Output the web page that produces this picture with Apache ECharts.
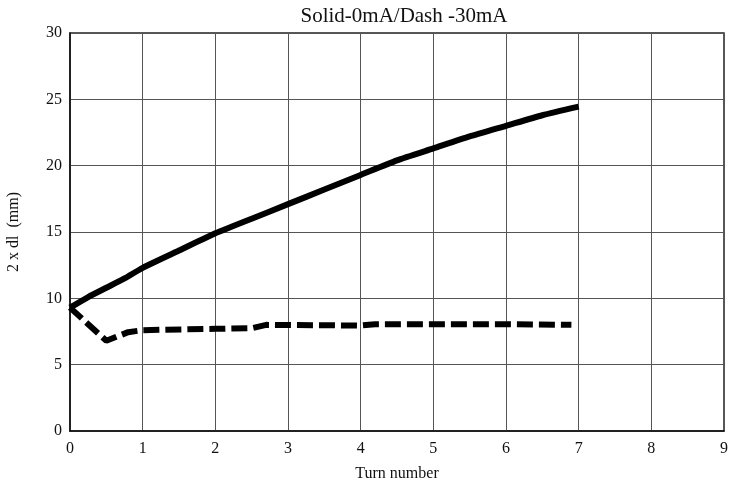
<!DOCTYPE html>
<html>
<head>
<meta charset="utf-8">
<script src="https://cdn.jsdelivr.net/npm/echarts@6/dist/echarts.min.js"></script>
<style>
  html, body { margin: 0; padding: 0; background: #fff; }
  #chart { width: 732px; height: 482px; }
</style>
</head>
<body>
<div id="chart"></div>
<script>
// solid line: 0 mA
const solidTurns = [0, 0.25, 0.5, 0.75, 1, 1.5, 2, 2.5, 3, 3.5, 4, 4.5, 5, 5.5, 6, 6.5, 7];
const solidValues = [9.3, 10.1, 10.8, 11.5, 12.3, 13.6, 14.9, 16.0, 17.1, 18.2, 19.3, 20.4, 21.3, 22.2, 23.0, 23.8, 24.45];

// dashed line: -30 mA
const dashTurns = [0, 0.5, 0.8, 1.0, 2.0, 2.5, 2.7, 4.0, 4.2, 5, 6, 6.9];
const dashValues = [9.3, 6.8, 7.45, 7.6, 7.7, 7.75, 8.0, 7.95, 8.05, 8.05, 8.05, 8.0];

const font = "'Liberation Serif', 'DejaVu Serif', serif";

const toPairs = (xs, ys) => xs.map((x, i) => [x, ys[i]]);

const myChart = echarts.init(document.getElementById('chart'));
const option = {
  backgroundColor: '#fff',
  animation: false,
  title: {
    text: 'Solid-0mA/Dash -30mA',
    left: 399,
    textAlign: 'center',
    top: 1,
    textStyle: { fontFamily: font, fontSize: 21, fontWeight: 'normal', color: '#111' },
  },
  grid: {
    left: 70,
    right: 8,
    top: 33,
    bottom: 51,
    outerBoundsMode: 'none',
    containLabel: false,
    show: true,
    borderColor: '#222',
    borderWidth: 1.5,
  },
  xAxis: {
    type: 'value',
    min: 0,
    max: 9,
    interval: 1,
    name: 'Turn number',
    nameLocation: 'middle',
    nameGap: 35,
    nameTextStyle: { fontFamily: font, fontSize: 16, color: '#111' },
    axisLine: { lineStyle: { color: '#111', width: 1.5 } },
    axisTick: { show: false },
    axisLabel: { fontFamily: font, fontSize: 16, color: '#111', margin: 10 },
    splitLine: { show: true, lineStyle: { color: '#555', width: 1 } },
  },
  yAxis: {
    type: 'value',
    min: 0,
    max: 30,
    interval: 5,
    name: '2 x dl  (mm)',
    nameLocation: 'middle',
    nameGap: 48,
    nameTextStyle: { fontFamily: font, fontSize: 16, color: '#111' },
    axisLine: { show: true, lineStyle: { color: '#111', width: 1.5 } },
    axisTick: { show: false },
    axisLabel: { fontFamily: font, fontSize: 16, color: '#111', margin: 8, padding: [6, 0, 0, 0] },
    splitLine: { show: true, lineStyle: { color: '#555', width: 1 } },
  },
  series: [
    {
      name: 'Solid-0mA',
      type: 'line',
      data: toPairs(solidTurns, solidValues),
      showSymbol: false,
      smooth: 0.2,
      lineStyle: { color: '#000', width: 6, cap: 'butt', join: 'round' },
    },
    {
      name: 'Dash -30mA',
      type: 'line',
      data: toPairs(dashTurns, dashValues),
      showSymbol: false,
      lineStyle: { color: '#000', width: 6, type: [16, 6], cap: 'butt' },
    },
  ],
};
myChart.setOption(option);
</script>
</body>
</html>
